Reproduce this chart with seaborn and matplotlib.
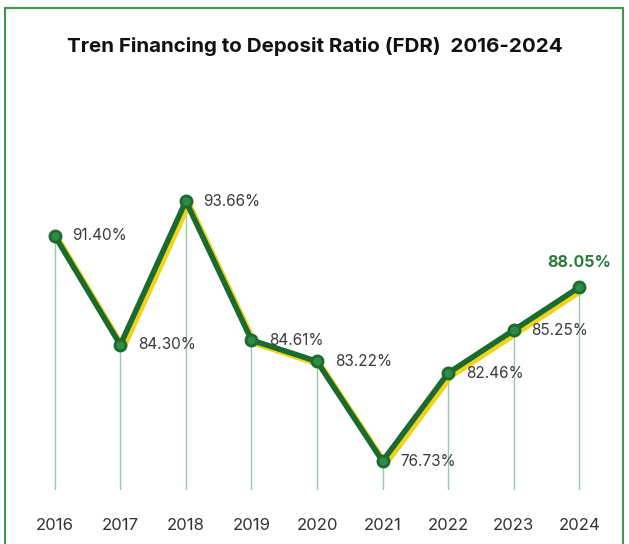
import numpy as np
import pandas as pd
import seaborn as sns
import matplotlib.pyplot as plt
import matplotlib.patheffects as pe
from matplotlib.patches import Rectangle

# FDR values
years = ["2016", "2017", "2018", "2019", "2020", "2021", "2022", "2023", "2024"]
fdr = [91.40, 84.30, 93.66, 84.61, 83.22, 76.73, 82.46, 85.25, 88.05]
labels = ["91.40%", "84.30%", "93.66%", "84.61%", "83.22%", "76.73%", "82.46%", "85.25%", "88.05%"]

df = pd.DataFrame({"Year": years, "FDR": fdr})
df["pos"] = np.arange(len(years))

sns.set_style("white")
plt.rcParams["font.family"] = ["Inter", "DejaVu Sans"]

fig = plt.figure(figsize=(6.29, 5.44), dpi=100)
ax = fig.add_axes([22 / 629, 54 / 544, 590 / 629, 430 / 544])

dark_green = "#1c6b2e"
ymin = 74.85

# thin drop lines from each point
ax.vlines(df["pos"], ymin, df["FDR"], color="#9cc7a8", linewidth=1.0, zorder=1)

# yellow shadow, shifted a little right/down
sns.lineplot(data=df, x="pos", y="FDR", ax=ax, color="#f2d21b", linewidth=4.5, zorder=2)
ax.lines[-1].set_path_effects([pe.Stroke(offset=(2, -2))])

sns.lineplot(data=df, x="pos", y="FDR", ax=ax, color=dark_green, linewidth=4.0,
             marker="o", markersize=8, markerfacecolor="#2f8a45",
             markeredgecolor=dark_green, markeredgewidth=2, zorder=3)

for i, (v, t) in enumerate(zip(fdr, labels)):
    if i == len(fdr) - 1:
        ax.text(i, v + 1.1, t, ha="center", va="bottom", fontsize=11.5,
                fontweight="bold", color="#2a7a3c", zorder=4)
    else:
        ax.text(i + 0.27, v, t, ha="left", va="center", fontsize=11,
                color="#3a3a3a", zorder=4)

ax.set_xlim(-0.5, 8.5)
ax.set_ylim(ymin, 102.84)
ax.set_xticks(df["pos"])
ax.set_xticklabels(years, fontsize=12, color="#333333")
ax.tick_params(axis="x", length=0, pad=20)
ax.set_yticks([])
ax.set_xlabel("")
ax.set_ylabel("")
for s in ax.spines.values():
    s.set_visible(False)

fig.text(0.5, 1 - 47 / 544, "Tren Financing to Deposit Ratio (FDR)  2016-2024",
         ha="center", va="center", fontsize=14.8, fontweight="bold", color="#111111")

fig.patches.append(Rectangle((5 / 629, -0.01), 618 / 629, 1 - 8 / 544 + 0.01,
                             transform=fig.transFigure, fill=False,
                             edgecolor="#3f9a4f", linewidth=1.5))

fig.savefig("out.png", dpi=100)
